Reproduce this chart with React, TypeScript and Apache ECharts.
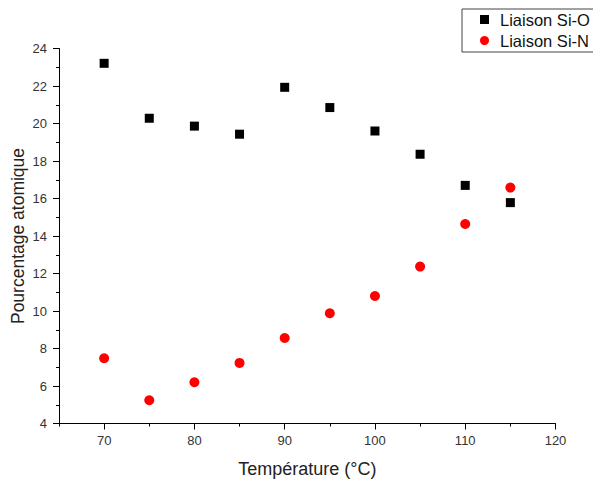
import React, { useEffect, useRef } from "react";
import * as echarts from "echarts";

const temperatures = [70, 75, 80, 85, 90, 95, 100, 105, 110, 115];
const siO = [23.21, 20.28, 19.86, 19.43, 21.93, 20.85, 19.6, 18.36, 16.7, 15.78];
const siN = [7.48, 5.24, 6.2, 7.23, 8.56, 9.88, 10.8, 12.37, 14.64, 16.58];
const seriesNames = ["Liaison Si-O", "Liaison Si-N"];
const xMajorTicks = [70, 80, 90, 100, 110, 120];
const xMinorTicks = [65, 75, 85, 95, 105, 115];

const FONT = "Arial, 'Liberation Sans', sans-serif";

export default function App() {
  const ref = useRef<HTMLDivElement>(null);
  useEffect(() => {
    if (!ref.current) return;
    const chart = echarts.init(ref.current, undefined, { renderer: "svg" });
    const pairs = (ys: number[]) => temperatures.map((t, i) => [t, ys[i]]);
    chart.setOption({
      animation: false,
      backgroundColor: "#ffffff",
      textStyle: { fontFamily: FONT },
      grid: {
        left: 59,
        top: 48.5,
        right: 37.5,
        bottom: 58.5,
        containLabel: false,
        outerBoundsMode: "none",
      },
      legend: {
        orient: "vertical",
        left: 462,
        top: 9,
        padding: [2, 20, 3, 18],
        itemWidth: 9,
        itemHeight: 9,
        itemGap: 4,
        borderColor: "#444",
        borderWidth: 1,
        textStyle: { fontSize: 16.5, color: "#111", fontFamily: FONT, lineHeight: 16, padding: [0, 0, 0, 6] },
        data: seriesNames,
      },
      xAxis: [
        {
          type: "value",
          min: 65,
          max: 120,
          name: "Température (°C)",
          nameLocation: "middle",
          nameGap: 36,
          nameMoveOverlap: false,
          nameTextStyle: { fontSize: 18, color: "#222", fontFamily: FONT },
          axisLine: { show: true, onZero: false, lineStyle: { color: "#000", width: 1 } },
          axisTick: { show: true, inside: false, length: 6, customValues: xMajorTicks, lineStyle: { color: "#000" } },
          axisLabel: {
            fontSize: 13,
            color: "#333",
            margin: 10,
            fontFamily: FONT,
            customValues: xMajorTicks,
          },
          splitLine: { show: false },
        },
        {
          type: "value",
          min: 65,
          max: 120,
          position: "bottom",
          axisLine: { show: false, onZero: false },
          axisTick: { show: true, inside: false, length: 3, customValues: xMinorTicks, lineStyle: { color: "#000" } },
          axisLabel: { show: false },
          splitLine: { show: false },
        },
      ],
      yAxis: {
        type: "value",
        min: 4,
        max: 24,
        interval: 2,
        name: "Pourcentage atomique",
        nameLocation: "middle",
        nameGap: 32,
        nameMoveOverlap: false,
        nameTextStyle: { fontSize: 17.5, color: "#222", fontFamily: FONT },
        axisLine: { show: true, onZero: false, lineStyle: { color: "#000", width: 1 } },
        axisTick: { show: true, inside: false, length: 6, lineStyle: { color: "#000" } },
        minorTick: { show: true, splitNumber: 2, length: 3, lineStyle: { color: "#000" } },
        axisLabel: {
          fontSize: 13,
          color: "#333",
          margin: 12,
          fontFamily: FONT,
        },
        splitLine: { show: false },
      },
      series: [
        {
          name: seriesNames[0],
          type: "scatter",
          symbol: "rect",
          symbolSize: 9,
          xAxisIndex: 0,
          itemStyle: { color: "#000000", opacity: 1 },
          data: pairs(siO),
        },
        {
          name: seriesNames[1],
          type: "scatter",
          symbol: "circle",
          symbolSize: 10,
          xAxisIndex: 0,
          itemStyle: { color: "#ff0000", opacity: 1 },
          data: pairs(siN),
        },
      ],
    });
    return () => chart.dispose();
  }, []);
  return (
    <div style={{ position: "fixed", left: 0, top: 0, width: 593, height: 482, background: "#fff" }}>
      <div ref={ref} style={{ width: 593, height: 482 }} />
    </div>
  );
}
